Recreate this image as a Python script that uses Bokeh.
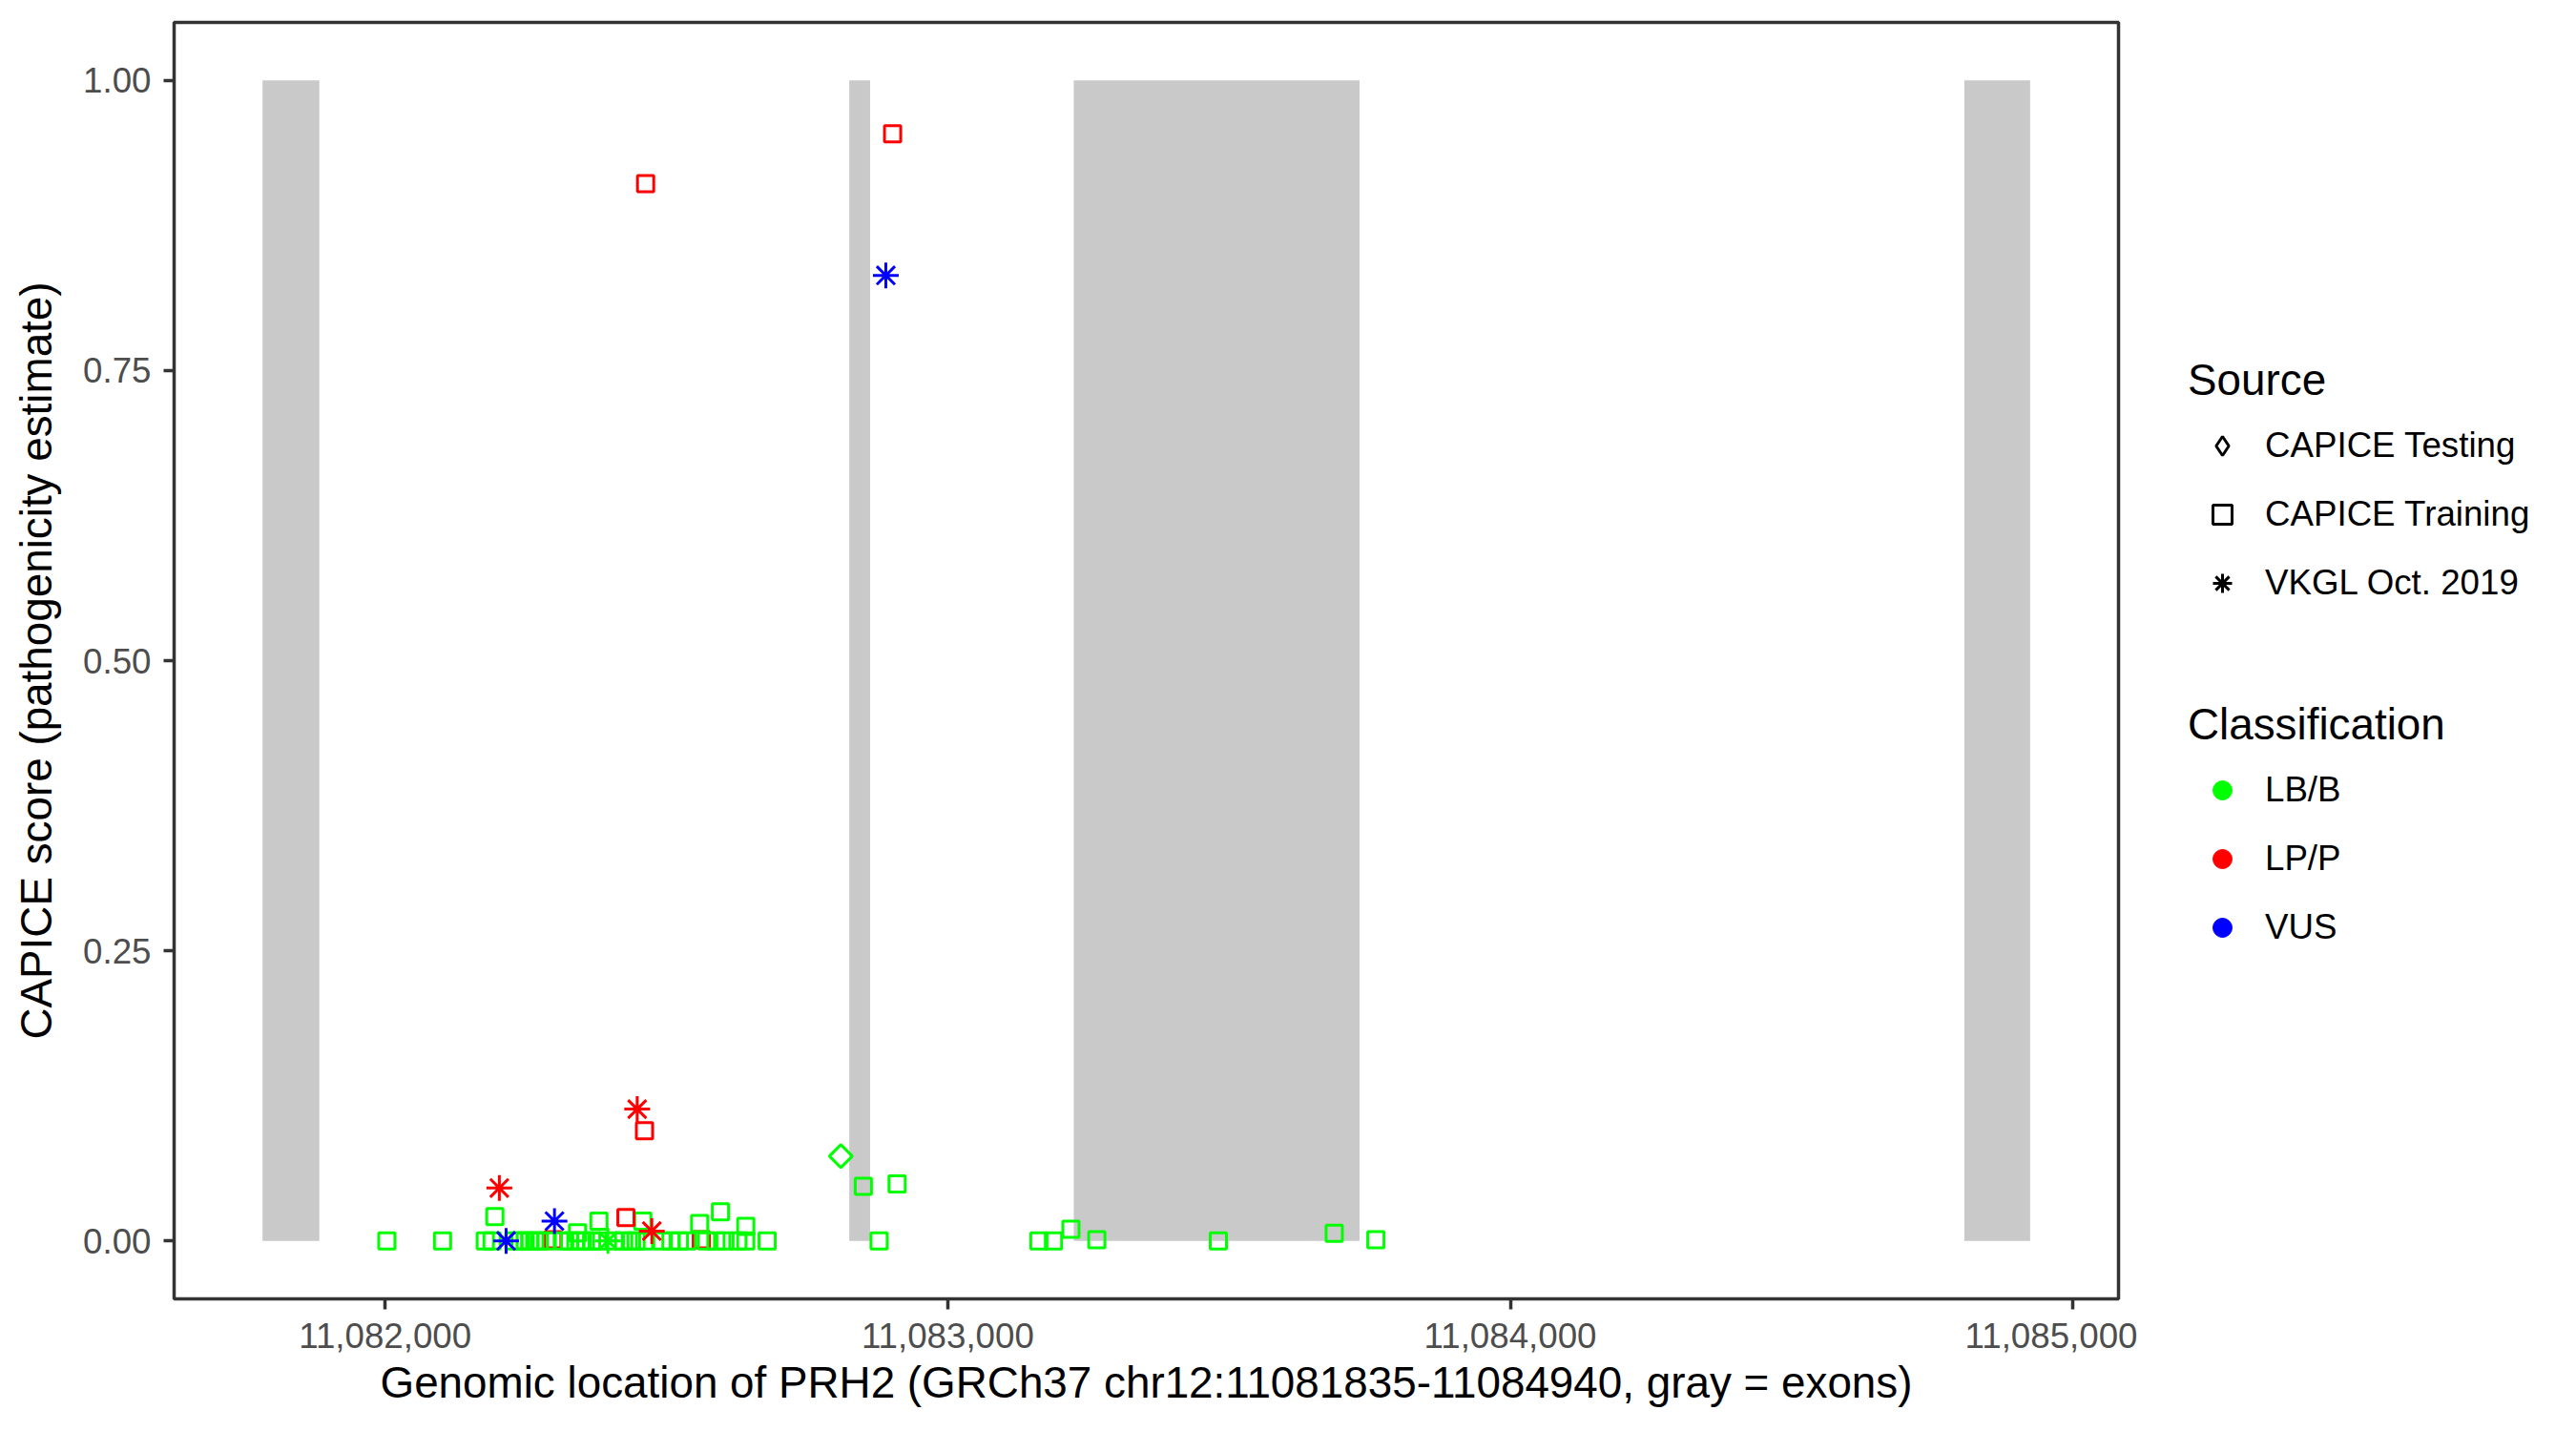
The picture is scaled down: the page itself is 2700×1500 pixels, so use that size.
import math
from bokeh.plotting import figure
from bokeh.models import (Range1d, FixedTicker, NumeralTickFormatter, Legend,
                          LegendItem, ColumnDataSource)
from bokeh.layouts import row
from bokeh.embed import file_html
from bokeh.resources import INLINE

# ---------------- data ----------------
exon_start = [11081782, 11082825, 11083224, 11084807]
exon_end = [11081883, 11082862, 11083732, 11084924]

x_ticks = [11082000, 11083000, 11084000, 11085000]
y_ticks = [0.0, 0.25, 0.50, 0.75, 1.00]

classes = ["LB/B", "LP/P", "VUS"]
class_colors = ["#00FF00", "#FF0000", "#0000FF"]
sources = ["CAPICE Testing", "CAPICE Training", "VKGL Oct. 2019"]

# CAPICE Training (squares)
train_pos = [11082298, 11082562,
             11082003, 11082102, 11082178, 11082190, 11082229, 11082240, 11082249,
             11082257, 11082266, 11082274, 11082286, 11082317, 11082328, 11082339,
             11082348, 11082356, 11082367, 11082379, 11082407, 11082424, 11082438,
             11082446, 11082461, 11082492, 11082508, 11082523, 11082537, 11082571,
             11082588, 11082604, 11082627, 11082641, 11082679, 11082878, 11083162,
             11083188, 11083265, 11083481, 11083761,
             11082195, 11082380, 11082342, 11082458, 11082596, 11082559, 11082641,
             11082850, 11082910, 11083219, 11083687,
             11082463, 11082902, 11082461, 11082428]
train_score = [0.001, 0.001,
               0.0, 0.0, 0.0, 0.0, 0.0, 0.0, 0.0,
               0.0, 0.0, 0.0, 0.0, 0.0, 0.0, 0.0,
               0.0, 0.0, 0.0, 0.0, 0.0, 0.0, 0.0,
               0.0, 0.0, 0.0, 0.0, 0.0, 0.0, 0.0,
               0.0, 0.0, 0.0, 0.0, 0.0, 0.0, 0.0,
               0.0, 0.001, 0.0, 0.001,
               0.021, 0.017, 0.007, 0.017, 0.025, 0.015, 0.0125,
               0.047, 0.049, 0.010, 0.0065,
               0.911, 0.954, 0.095, 0.020]
train_class = ["LP/P", "LP/P"] + ["LB/B"] * 39 + ["LB/B"] * 11 + ["LP/P"] * 4

# CAPICE Testing (diamonds)
test_pos = [11082810]
test_score = [0.073]
test_class = ["LB/B"]

# VKGL Oct. 2019 (asterisks)
vkgl_pos = [11082396, 11082448, 11082203, 11082474, 11082890, 11082301, 11082215]
vkgl_score = [0.0, 0.1135, 0.0455, 0.0084, 0.832, 0.017, 0.0]
vkgl_class = ["LB/B", "LP/P", "LP/P", "LP/P", "VUS", "VUS", "VUS"]

# ---------------- style ----------------
FONT = "Liberation Sans"
cmap = dict(zip(classes, class_colors))

lo, hi = min(exon_start), max(exon_end)
pad = 0.05 * (hi - lo)

p = figure(width=2240, height=1491, output_backend="svg", toolbar_location=None,
           x_range=Range1d(lo - pad, hi + pad), y_range=Range1d(-0.05, 1.05),
           min_border_left=182, min_border_right=20, min_border_top=23,
           min_border_bottom=130)
p.grid.visible = False
p.background_fill_color = "white"
p.border_fill_color = "white"
p.outline_line_color = "#333333"
p.outline_line_width = 3.5

p.quad(left=exon_start, right=exon_end, bottom=0, top=1,
       fill_color="#C9C9C9", line_color=None)

src_train = ColumnDataSource(dict(x=train_pos, y=train_score,
                                  c=[cmap[k] for k in train_class]))
src_test = ColumnDataSource(dict(x=test_pos, y=test_score,
                                 c=[cmap[k] for k in test_class]))
src_vkgl = ColumnDataSource(dict(x=vkgl_pos, y=vkgl_score,
                                 c=[cmap[k] for k in vkgl_class]))

p.scatter("x", "y", source=src_train, marker="square", size=17,
          fill_color=None, line_color="c", line_width=3)
p.scatter("x", "y", source=src_test, marker="square", size=17, angle=math.pi / 4,
          fill_color=None, line_color="c", line_width=3)
p.scatter("x", "y", source=src_vkgl, marker="asterisk", size=27,
          line_color="c", line_width=3)

p.xaxis.ticker = FixedTicker(ticks=x_ticks)
p.xaxis.formatter = NumeralTickFormatter(format="0,0")
p.yaxis.ticker = FixedTicker(ticks=y_ticks)
p.yaxis.formatter = NumeralTickFormatter(format="0.00")
p.xaxis.axis_label = "Genomic location of PRH2 (GRCh37 chr12:11081835-11084940, gray = exons)"
p.yaxis.axis_label = "CAPICE score (pathogenicity estimate)"

for ax in (p.xaxis, p.yaxis):
    ax.axis_line_color = None
    ax.minor_tick_line_color = None
    ax.major_tick_line_color = "#333333"
    ax.major_tick_line_width = 3.5
    ax.major_tick_out = 11
    ax.major_tick_in = 0
    ax.major_label_text_font = FONT
    ax.major_label_text_font_size = "36.7px"
    ax.major_label_text_color = "#4D4D4D"
    ax.axis_label_text_font = FONT
    ax.axis_label_text_font_size = "45.8px"
    ax.axis_label_text_font_style = "normal"
    ax.axis_label_text_color = "black"

p.xaxis.major_label_standoff = 14
p.xaxis.axis_label_standoff = 8
p.yaxis.major_label_standoff = 13
p.yaxis.axis_label_standoff = 20

# ---------------- legend panel ----------------
leg = figure(width=457, height=1491, output_backend="svg", toolbar_location=None,
             x_range=Range1d(0, 1), y_range=Range1d(0, 1),
             x_axis_location=None, y_axis_location=None, min_border=0)
leg.grid.visible = False
leg.outline_line_color = None


def proxy():
    # legend-only renderer: one undrawable (NaN) point
    return ColumnDataSource(dict(x=[float("nan")], y=[float("nan")]))


r_test = leg.scatter("x", "y", source=proxy(), marker="diamond",
                     fill_color=None, line_color="black", line_width=3)
r_train = leg.scatter("x", "y", source=proxy(), marker="square",
                      fill_color=None, line_color="black", line_width=3)
r_vkgl = leg.scatter("x", "y", source=proxy(), marker="asterisk",
                     line_color="black", line_width=3)
shape_renderers = [r_test, r_train, r_vkgl]
color_renderers = [leg.scatter("x", "y", source=proxy(), marker="circle",
                               fill_color=c, line_color=c, line_width=1)
                   for c in class_colors]


def make_legend(title, labels, renderers, loc):
    lg = Legend(items=[LegendItem(label=l, renderers=[r]) for l, r in zip(labels, renderers)],
                title=title, location=loc)
    lg.title_text_font = FONT
    lg.title_text_font_size = "45.8px"
    lg.title_text_font_style = "normal"
    lg.title_text_color = "black"
    lg.title_standoff = 17
    lg.label_text_font = FONT
    lg.label_text_font_size = "36.7px"
    lg.label_text_color = "black"
    lg.glyph_width = 72
    lg.glyph_height = 50
    lg.label_height = 50
    lg.label_standoff = 9
    lg.spacing = 22
    lg.padding = 0
    lg.margin = 0
    lg.border_line_color = None
    lg.background_fill_alpha = 0
    return lg


leg.add_layout(make_legend("Source", sources, shape_renderers, (53, 725)))
leg.add_layout(make_legend("Classification", classes, color_renderers, (53, 364)))

layout = row(p, leg)
open("out.html", "w").write(file_html(layout, INLINE))
